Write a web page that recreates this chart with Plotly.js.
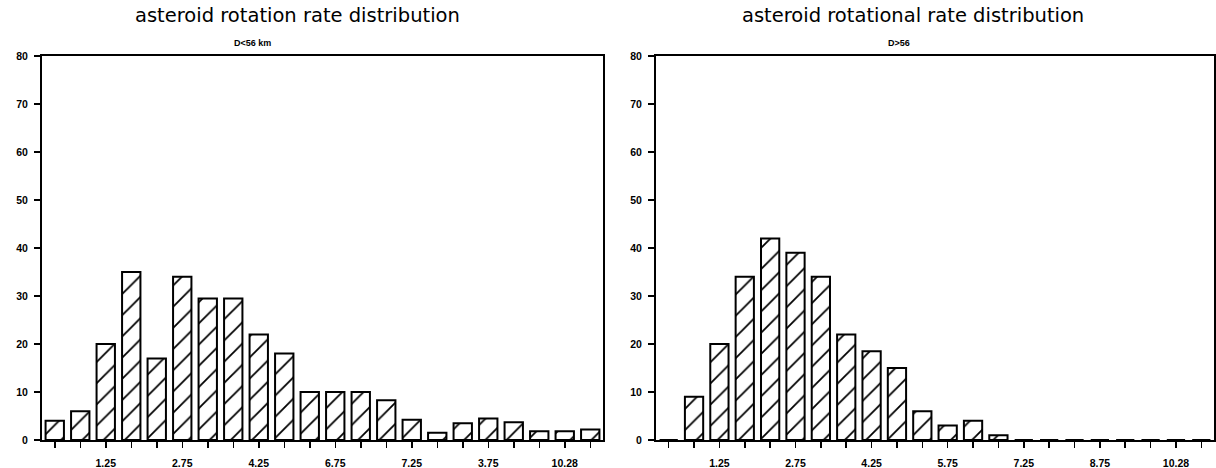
<!DOCTYPE html>
<html>
<head>
<meta charset="utf-8">
<script src="https://cdn.plot.ly/plotly-3.0.1.min.js"></script>
<style>html,body{margin:0;padding:0;background:#fff;}#chart{width:1216px;height:468px;}</style>
</head>
<body>
<div id="chart"></div>
<script>
// Bin centres (rev/day), 0.5-wide bins
const binCenters = [0.25, 0.75, 1.25, 1.75, 2.25, 2.75, 3.25, 3.75, 4.25, 4.75, 5.25,
                    5.75, 6.25, 6.75, 7.25, 7.75, 8.25, 8.75, 9.25, 9.75, 10.25, 10.75];
// Left panel: D<56 km
const countsSmall = [4, 6, 20, 35, 17, 34, 29.5, 29.5, 22, 18, 10,
                     10, 10, 8.3, 4.2, 1.5, 3.5, 4.5, 3.7, 1.8, 1.8, 2.2];
// Right panel: D>56
const countsLarge = [0, 9, 20, 34, 42, 39, 34, 22, 18.5, 15, 6,
                     3, 4, 1, 0, 0, 0, 0, 0, 0, 0, 0];
// Tick labels as printed
const labelPosLeft  = [1.25, 2.75, 4.25, 5.75, 7.25, 8.75, 10.25];
const labelTxtLeft  = ["1.25", "2.75", "4.25", "6.75", "7.25", "3.75", "10.28"];
const labelPosRight = [1.25, 2.75, 4.25, 5.75, 7.25, 8.75, 10.25];
const labelTxtRight = ["1.25", "2.75", "4.25", "5.75", "7.25", "8.75", "10.28"];
const yTicks = [0, 10, 20, 30, 40, 50, 60, 70, 80];

const titleLeft = "asteroid rotation rate distribution";
const subLeft = "D<56 km";
const titleRight = "asteroid rotational rate distribution";
const subRight = "D>56";

function tickText(pos, txt) {
  return binCenters.map(c => {
    const i = pos.indexOf(c);
    return i >= 0 ? txt[i] : "";
  });
}

const barStyle = {
  color: "white",
  line: {color: "black", width: 2},
  pattern: {shape: "/", fgcolor: "black", bgcolor: "white", size: 15, solidity: 0.12}
};

const traces = [
  {type: "bar", x: binCenters, y: countsSmall, xaxis: "x", yaxis: "y", marker: barStyle, hoverinfo: "none"},
  {type: "bar", x: binCenters, y: countsLarge, xaxis: "x2", yaxis: "y2", marker: barStyle, hoverinfo: "none"}
];

const tickFont = {family: "Liberation Sans, Arial, sans-serif", size: 10.5, color: "black", weight: "bold"};

function xAxis(domain, pos, txt, anchor) {
  return {
    domain: domain, anchor: anchor, range: [0, 11],
    showgrid: false, zeroline: false,
    showline: true, linecolor: "black", linewidth: 2, mirror: true,
    ticks: "outside", ticklen: 6, tickwidth: 1.5, tickcolor: "black",
    tickvals: binCenters, ticktext: tickText(pos, txt),
    tickfont: tickFont, ticklabelstandoff: 6, fixedrange: true
  };
}
function yAxis(domain, anchor) {
  return {
    domain: domain, anchor: anchor, range: [0, 80],
    showgrid: false, zeroline: false,
    showline: true, linecolor: "black", linewidth: 2, mirror: true,
    ticks: "outside", ticklen: 6, tickwidth: 1.5, tickcolor: "black",
    tickvals: yTicks, ticktext: yTicks.map(String),
    tickfont: tickFont, ticklabelstandoff: 4, fixedrange: true
  };
}

const W = 1216, H = 468;
const yDom = [(H - 440) / H, (H - 56) / H];

const titleFont = {family: "DejaVu Sans, sans-serif", size: 19.5, color: "black"};
const subFont = {family: "Liberation Sans, Arial, sans-serif", size: 9, color: "black", weight: "bold"};

const layout = {
  width: W, height: H,
  margin: {l: 0, r: 0, t: 0, b: 0},
  paper_bgcolor: "white", plot_bgcolor: "white",
  showlegend: false, bargap: 0.28,
  xaxis: xAxis([42 / W, 603 / W], labelPosLeft, labelTxtLeft, "y"),
  yaxis: yAxis(yDom, "x"),
  xaxis2: xAxis([656 / W, 1214 / W], labelPosRight, labelTxtRight, "y2"),
  yaxis2: yAxis(yDom, "x2"),
  annotations: [
    {text: titleLeft, xref: "paper", yref: "paper", x: 297 / W, y: (H - 16) / H, xanchor: "center", yanchor: "middle", showarrow: false, font: titleFont},
    {text: subLeft, xref: "paper", yref: "paper", x: 252 / W, y: (H - 43) / H, xanchor: "center", yanchor: "middle", showarrow: false, font: subFont},
    {text: titleRight, xref: "paper", yref: "paper", x: 913 / W, y: (H - 16) / H, xanchor: "center", yanchor: "middle", showarrow: false, font: titleFont},
    {text: subRight, xref: "paper", yref: "paper", x: 899 / W, y: (H - 43) / H, xanchor: "center", yanchor: "middle", showarrow: false, font: subFont}
  ]
};

Plotly.newPlot("chart", traces, layout, {staticPlot: true, displayModeBar: false});
</script>
</body>
</html>
